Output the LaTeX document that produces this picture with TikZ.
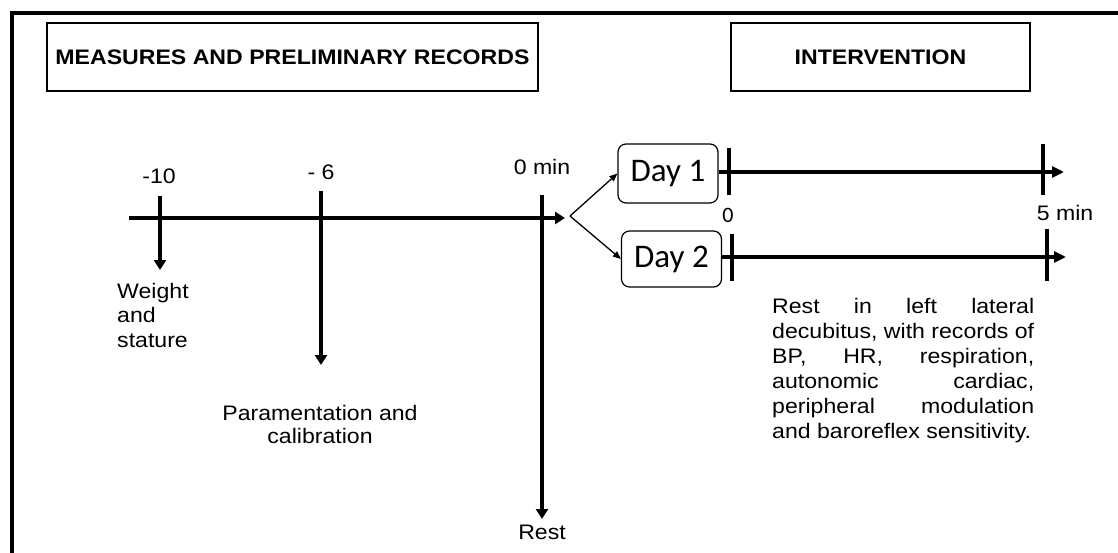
\documentclass[tikz,border=0pt]{standalone}
\usepackage{fontspec}
\setmainfont{Liberation Sans}[FakeStretch=1.1]
\newfontfamily\dayfont{Carlito}
\usetikzlibrary{arrows.meta}

\tikzset{
  lbl/.style={inner sep=0pt, font=\fontsize{21}{24.5}\selectfont},
  hdr/.style={draw, line width=1.3pt, minimum height=68pt, inner sep=0pt,
              font=\bfseries\fontsize{21}{24}\selectfont},
  daybox/.style={draw, rounded corners=8pt, line width=1.2pt, minimum width=100pt,
                 inner sep=0pt, font=\dayfont\fontsize{33}{36}\selectfont},
  axis/.style={line width=4pt},
  tickln/.style={line width=4.5pt},
  bigtip/.style={-{Triangle[length=10pt,width=12pt]}},
  daytip/.style={-{Triangle[length=12pt,width=11pt]}},
  smalltip/.style={line width=1.3pt, -{Triangle[length=8pt,width=6.5pt]}},
}

\begin{document}
\begin{tikzpicture}[x=1pt,y=-1pt]
  \useasboundingbox (0,0) rectangle (1118,553);

  % outer frame (top and left edges)
  \draw[line width=4pt] (12,553) -- (12,13) -- (1118,13);

  % section headers
  \node[hdr, minimum width=491pt] (hmeas) at (292.5,57) {MEASURES AND PRELIMINARY RECORDS};
  \node[hdr, minimum width=299pt] (hint) at (880.5,57) {INTERVENTION};

  % main timeline
  \coordinate (mstart) at (129,218);
  \coordinate (mend) at (565,218);
  \draw[axis, bigtip] (mstart) -- (mend);

  % time marks with downward arrows
  \coordinate (m10a) at (160,196);  \coordinate (m10b) at (160,270);
  \coordinate (m6a)  at (321,191);  \coordinate (m6b)  at (321,365);
  \coordinate (m0a)  at (542,195);  \coordinate (m0b)  at (542,519);
  \draw[tickln, bigtip] (m10a) -- (m10b);
  \draw[tickln, bigtip] (m6a) -- (m6b);
  \draw[tickln, bigtip] (m0a) -- (m0b);

  \node[lbl, anchor=base] (l10) at (159,184) {-10};
  \node[lbl, anchor=base] (l6) at (321,180) {- 6};
  \node[lbl, anchor=base] (l0) at (542,175) {0 min};

  \node[lbl, anchor=north west, align=left] (weight) at (117,282.7) {Weight\\and\\stature};
  \node[lbl, anchor=north, align=center, font=\fontsize{21}{23.5}\selectfont]
        (param) at (320,404.7) {Paramentation and\\calibration};
  \node[lbl, anchor=base] (rest) at (542,539) {Rest};

  % split into the two days
  \coordinate (fork) at (570,216);
  \node[daybox, minimum height=59pt] (day1) at (668,173.5) {Day 1};
  \node[daybox, minimum height=56pt] (day2) at (671.5,259) {Day 2};
  \draw[smalltip] (fork) -- (day1.west);
  \draw[smalltip] (fork) -- (day2.west);

  % intervention timelines
  \coordinate (d1end) at (1064,172);
  \coordinate (d2end) at (1066,257);
  \draw[axis, daytip] (day1.east |- d1end) -- (d1end);
  \draw[axis, daytip] (day2.east |- d2end) -- (d2end);

  \coordinate (a0a) at (729,148);  \coordinate (a0b) at (729,195);
  \coordinate (a5a) at (1043,144); \coordinate (a5b) at (1043,195);
  \coordinate (b0a) at (732,234);  \coordinate (b0b) at (732,281);
  \coordinate (b5a) at (1047,229); \coordinate (b5b) at (1047,281);
  \draw[tickln] (a0a) -- (a0b);
  \draw[tickln] (a5a) -- (a5b);
  \draw[tickln] (b0a) -- (b0b);
  \draw[tickln] (b5a) -- (b5b);

  \node[inner sep=0pt, anchor=base, font=\dayfont\fontsize{22}{24}\selectfont] (z0) at (728,223) {0};
  \node[lbl, anchor=base] (z5) at (1065,221) {5 min};

  % description of the rest period
  \node[lbl, anchor=north west, text width=262pt, align=justify,
        font=\fontsize{21}{25}\selectfont] (desc) at (772,297.7)
    {\tolerance=10000 \hyphenpenalty=10000 \emergencystretch=0pt
     Rest in left lateral\linebreak
     decubitus, with records of\linebreak
     BP, HR, respiration,\linebreak
     autonomic cardiac,\linebreak
     peripheral modulation\linebreak
     \mbox{and baroreflex sensitivity.}};
\end{tikzpicture}
\end{document}
